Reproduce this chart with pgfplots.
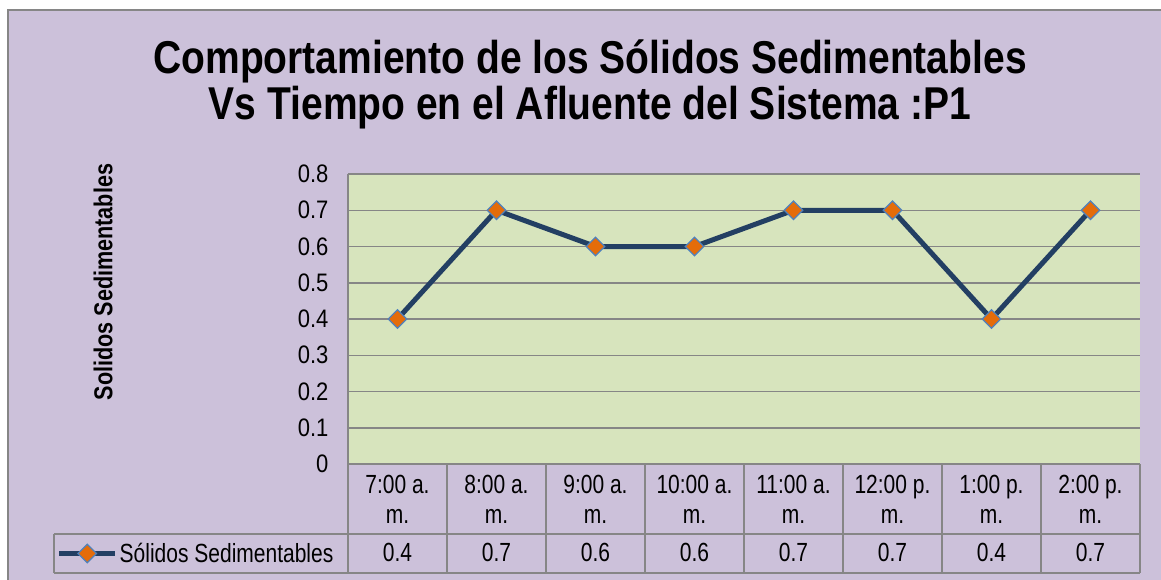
\documentclass[border=0pt]{standalone}
\usepackage{fontspec}
\setmainfont{Liberation Sans}
\usepackage{graphicx}
\usepackage{pgfplots}
\usepackage{pgfplotstable}
\pgfplotsset{compat=1.18}
\definecolor{bgpurple}{RGB}{204,193,218}
\definecolor{plotgreen}{RGB}{215,228,189}
\definecolor{gridgray}{RGB}{134,134,134}
\definecolor{navy}{RGB}{35,63,99}
\definecolor{mkorange}{RGB}{228,108,10}
\definecolor{mkblue}{RGB}{79,129,189}

\newcommand\tl[2]{\scalebox{1}[1.25]{\begin{tabular}[t]{@{}c@{}}#1\\#2\end{tabular}}}

\pgfplotstableread{
x y
0 0.4
1 0.7
2 0.6
3 0.6
4 0.7
5 0.7
6 0.4
7 0.7
}\datatable

\begin{document}
\begin{tikzpicture}
\fill[bgpurple] (-340pt,-130pt) rectangle (830pt,454pt);
\draw[gridgray, line width=1.5pt] (-340pt,-130pt) -- (-340pt,454pt) -- (830pt,454pt);
\begin{axis}[
  scale only axis, width=792pt, height=290pt,
  xmin=-0.5, xmax=7.5, ymin=0, ymax=0.8,
  clip=false,
  axis background/.style={fill=plotgreen},
  axis x line*=bottom, axis y line*=left,
  axis line style={gridgray, line width=1.5pt, -},
  ymajorgrids, grid style={gridgray, line width=1.5pt},
  ytick={0,0.1,0.2,0.3,0.4,0.5,0.6,0.7,0.8},
  yticklabel={\scalebox{1}[1.15]{\pgfmathprintnumber{\tick}}},
  yticklabel style={font=\fontsize{22}{24}\selectfont, xshift=-16pt},
  /pgf/number format/fixed, /pgf/number format/precision=1,
  /pgf/number format/assume math mode=true,
  major tick length=0pt,
  xtick={0,1,2,3,4,5,6,7},
  xticklabels={{\tl{7:00 a.}{m.}},{\tl{8:00 a.}{m.}},{\tl{9:00 a.}{m.}},{\tl{10:00 a.}{m.}},{\tl{11:00 a.}{m.}},{\tl{12:00 p.}{m.}},{\tl{1:00 p.}{m.}},{\tl{2:00 p.}{m.}}},
  xticklabel style={font=\fontsize{21}{24}\selectfont, anchor=base, yshift=-29pt, inner sep=0pt},
  title={\scalebox{1}[1.18]{\fontsize{39}{38.1}\selectfont\bfseries\begin{tabular}[t]{@{}c@{}}Comportamiento de los Sólidos Sedimentables\\Vs Tiempo en el Afluente del Sistema :P1\end{tabular}}},
  title style={at={(axis description cs:0.3056,1.3276)}, anchor=base, inner sep=0pt},
  ylabel={\scalebox{1}[1.2]{Solidos Sedimentables}},
  every axis y label/.style={at={(axis description cs:-0.3093,0.6276)}, rotate=90, anchor=center, font=\fontsize{21.6}{24}\selectfont\bfseries},
  legend style={at={(axis description cs:-0.368,-0.3086)}, anchor=west, draw=none, fill=none, font=\fontsize{21}{24}\selectfont, inner sep=0pt, /tikz/every even column/.append style={column sep=2pt}},
  legend image code/.code={\draw[#1, mark repeat=2, mark phase=2] plot coordinates {(0pt,0pt) (28pt,0pt) (56pt,0pt)};},
]
\addplot[navy, line width=5pt, mark=square*, mark size=6.5pt,
  mark options={rotate=45, fill=mkorange, draw=mkblue, line width=1.3pt}]
  table[x=x, y=y] {\datatable};
\addlegendentry{\scalebox{1}[1.25]{Sólidos Sedimentables}}
\addplot[draw=none, mark=none, forget plot, point meta=explicit,
  nodes near coords={\scalebox{1}[1.25]{\pgfmathprintnumber{\pgfplotspointmeta}}},
  every node near coord/.append style={anchor=base, inner sep=0pt, text=black, font=\fontsize{21}{24}\selectfont}]
  table[x=x, y expr=-0.2703, meta=y] {\datatable};
% table grid
\draw[gridgray, line width=1.5pt] (axis cs:-3.47,-0.1931) -- (axis cs:7.5,-0.1931);
\draw[gridgray, line width=1.5pt] (axis cs:-3.47,-0.3007) -- (axis cs:7.5,-0.3007);
\draw[gridgray, line width=1.5pt] (axis cs:-3.47,-0.1931) -- (axis cs:-3.47,-0.3007);
\pgfplotsinvokeforeach{-0.5,0.5,1.5,2.5,3.5,4.5,5.5,6.5,7.5}{
  \draw[gridgray, line width=1.5pt] (axis cs:#1,0) -- (axis cs:#1,-0.3007);
}
\end{axis}
\pgfresetboundingbox
\path[use as bounding box] (-348pt,-115pt) rectangle (813pt,464pt);
\end{tikzpicture}
\end{document}
